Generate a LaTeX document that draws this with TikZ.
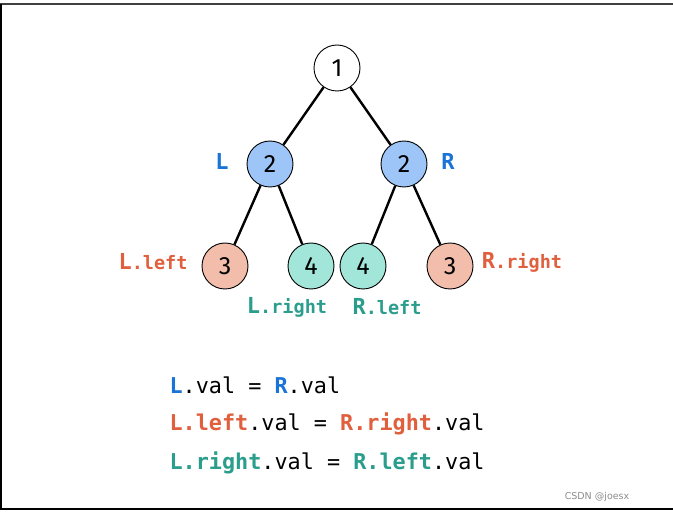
\documentclass[tikz,border=0pt]{standalone}
\usepackage{fontspec}
\setmainfont{DejaVu Sans}
\setmonofont{DejaVu Sans Mono}
\newfontfamily\digitfont{Fira Sans}
\usetikzlibrary{positioning}
\definecolor{nodeblue}{HTML}{9EC5F8}
\definecolor{nodered}{HTML}{F2BDAB}
\definecolor{nodeteal}{HTML}{A1E6D9}
\definecolor{lblblue}{HTML}{1A73D6}
\definecolor{lblred}{HTML}{E05F3D}
\definecolor{lblteal}{HTML}{2A9D8C}
\newcommand{\tagcap}[1]{{\fontsize{22}{22}\selectfont #1}}

\begin{document}
\begin{tikzpicture}[x=1pt,y=-1pt,
  vertex/.style={circle,draw,line width=0.9pt,minimum size=46pt,inner sep=0pt,font=\digitfont\fontsize{25}{25}\selectfont},
  edge/.style={line width=2.4pt},
  tag/.style={font=\fontsize{18.5}{18.5}\selectfont\ttfamily\bfseries},
  eqline/.style={anchor=west,font=\fontsize{21.8}{21.8}\selectfont\ttfamily}]
\useasboundingbox (0,0) rectangle (673,513);
% frame
\draw[line width=2pt,black!75] (0,4) -- (673,4);
\draw[line width=2.5pt] (1,4) -- (1,509) -- (673,509);

% tree
\node[vertex,fill=white] (root) at (337,68) {1};
\node[vertex,fill=nodeblue] (L) at (270,164) {2};
\node[vertex,fill=nodeblue] (R) at (404,164) {2};
\node[vertex,fill=nodered] (LL) at (225,266) {3};
\node[vertex,fill=nodeteal] (LR) at (311,266) {4};
\node[vertex,fill=nodeteal] (RL) at (363,266) {4};
\node[vertex,fill=nodered] (RR) at (450,266) {3};
\draw[edge] (root) -- (L); \draw[edge] (root) -- (R);
\draw[edge] (L) -- (LL); \draw[edge] (L) -- (LR);
\draw[edge] (R) -- (RL); \draw[edge] (R) -- (RR);

% labels
\node[tag,lblblue] (tL) at (222,161) {\tagcap{L}};
\node[tag,lblblue] (tR) at (448,161) {\tagcap{R}};
\node[tag,lblred] (tLL) at (153,262) {\tagcap{L}.left};
\node[tag,lblteal] (tLR) at (287,307) {\tagcap{L}.right};
\node[tag,lblteal] (tRL) at (387,307) {\tagcap{R}.left};
\node[tag,lblred] (tRR) at (522,262) {\tagcap{R}.right};

% equalities
\node[eqline] (eq1) at (166,385) {\textcolor{lblblue}{\bfseries L}.val = \textcolor{lblblue}{\bfseries R}.val};
\node[eqline] (eq2) at (166,424) {\textcolor{lblred}{\bfseries L.left}.val = \textcolor{lblred}{\bfseries R.right}.val};
\node[eqline] (eq3) at (166,463) {\textcolor{lblteal}{\bfseries L.right}.val = \textcolor{lblteal}{\bfseries R.left}.val};

\node[font=\fontsize{9.5}{9.5}\selectfont,black!45] (mark) at (597,497) {CSDN @joesx};
\end{tikzpicture}
\end{document}
